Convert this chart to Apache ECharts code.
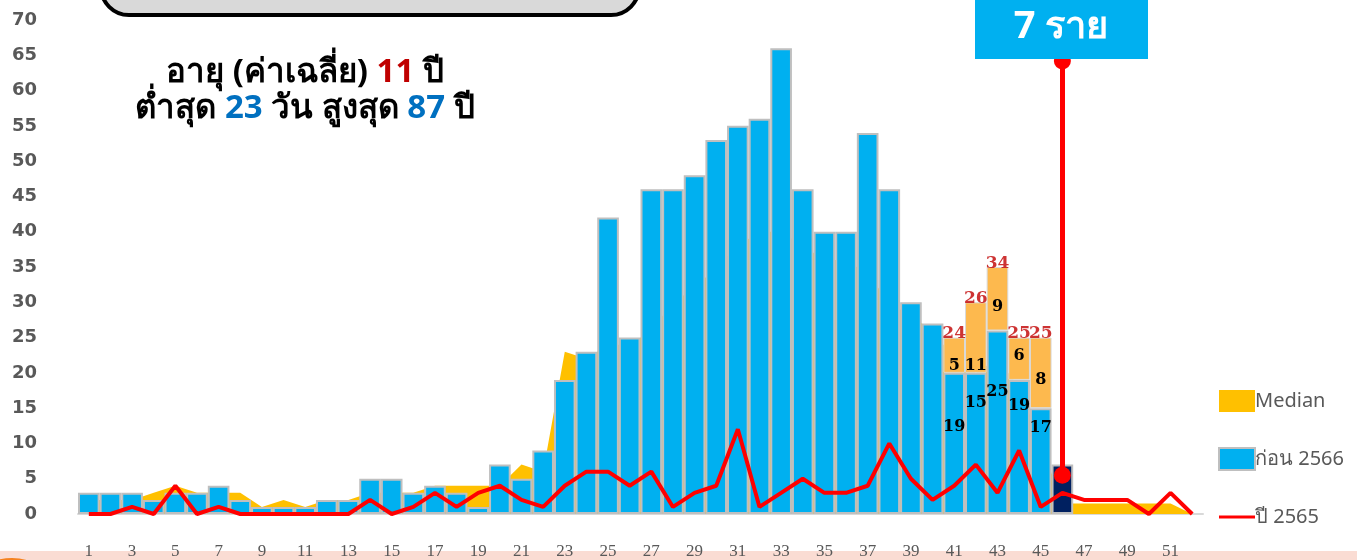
<!DOCTYPE html>
<html>
<head>
<meta charset="utf-8">
<title>chart</title>
<script src="https://cdn.jsdelivr.net/npm/echarts@6/dist/echarts.min.js"></script>
<style>
  html, body { margin: 0; padding: 0; background: #fff; }
  #main { width: 1357px; height: 560px; }
</style>
</head>
<body>
<div id="main"></div>
<script>
// week numbers (x axis)
const weeks = ['1','2','3','4','5','6','7','8','9','10','11','12','13','14','15','16','17','18','19','20',
  '21','22','23','24','25','26','27','28','29','30','31','32','33','34','35','36','37','38','39','40',
  '41','42','43','44','45','46','47','48','49','50','51','52'];

// ก่อน 2566 (blue bars)
const before2566 = [3,3,3,2,3,3,4,2,1,1,1,2,2,5,5,3,4,3,1,7,5,9,19,23,42,25,46,46,48,53,55,56,66,46,40,40,54,46,30,27,
  20,20,26,19,15,null,null,null,null,null,null,null];

// late reports stacked on weeks 41-45 (light orange)
const lateAdded = [null,null,null,null,null,null,null,null,null,null,null,null,null,null,null,null,null,null,null,null,
  null,null,null,null,null,null,null,null,null,null,null,null,null,null,null,null,null,null,null,null,
  5,10,9,6,10,null,null,null,null,null,null,null];

// current week (navy bar)
const currentWeek = [null,null,null,null,null,null,null,null,null,null,null,null,null,null,null,null,null,null,null,null,
  null,null,null,null,null,null,null,null,null,null,null,null,null,null,null,null,null,null,null,null,
  null,null,null,null,null,7,null,null,null,null,null,null];

// Median (area)
const median = [2,2,2,3,4,3,3,3,1,2,1,2,2,3,3,3,4,4,4,4,7,6,23,22,24,24,26,30,32,35,38,40,40,38,36,36,34,30,28,26,
  22,20,22,18,10,1.5,1.5,1.5,1.5,1.5,1.5,0];

// ปี 2565 (red line)
const year2565 = [0,0,1,0,4,0,1,0,0,0,0,0,0,2,0,1,3,1,3,4,2,1,4,6,6,4,6,1,3,4,12,1,3,5,3,3,4,10,5,2,
  4,7,3,9,1,3,2,2,2,0,3,0];

// numbers written on weeks 41-45
const blueLabels = [19,15,25,19,17];
const lateLabels = [5,11,9,6,8];
const totalLabels = [24,26,34,25,25];

const yTicks = { min: 0, max: 70, step: 5 };

// where the small numbers sit (in axis units)
const blueLabelLevel = [12.3,15.7,17.3,15.3,12.2];
const lateLabelLevel = [21,21,29.4,22.4,19];

const firstLabelled = 40;
const pxPerUnit = (515 - 20) / 70;

const serifBold = { fontFamily: 'DejaVu Serif', fontWeight: 'bold' };
const thai = 'Noto Sans, sans-serif';

const blueData = before2566.map(function (v, i) {
  const k = i - firstLabelled;
  if (v == null || k < 0 || k >= blueLabels.length) return v;
  return {
    value: v,
    label: {
      show: true,
      position: ['50%', (v - blueLabelLevel[k]) * pxPerUnit],
      align: 'center', verticalAlign: 'middle',
      formatter: String(blueLabels[k]),
      color: '#000', fontSize: 16, ...serifBold
    }
  };
});

const lateData = lateAdded.map(function (v, i) {
  if (v == null) return v;
  const k = i - firstLabelled;
  return {
    value: v,
    label: {
      show: true,
      position: ['50%', (before2566[i] + v - lateLabelLevel[k]) * pxPerUnit],
      align: 'center', verticalAlign: 'middle',
      formatter: String(lateLabels[k]),
      color: '#000', fontSize: 16, ...serifBold
    }
  };
});

const totalData = lateAdded.map(function (v, i) {
  if (v == null) return null;
  return [i, before2566[i] + v];
});

const chart = echarts.init(document.getElementById('main'));

chart.setOption({
  animation: false,
  backgroundColor: '#fff',
  grid: { left: 78, right: 154, top: 20, bottom: 45 },
  legend: {
    data: [
      { name: 'Median', icon: 'rect' },
      { name: 'ก่อน 2566', icon: 'rect' },
      { name: 'ปี 2565', icon: 'path://M0,0 M36,22 M0,9.5 L36,9.5 L36,12.5 L0,12.5 Z' }
    ],
    orient: 'vertical',
    left: 1213,
    top: 385,
    itemWidth: 36,
    itemHeight: 22,
    itemGap: 35,
    textStyle: { fontFamily: thai, fontSize: 20, color: '#595959', padding: [0, 0, 0, -5] }
  },
  xAxis: {
    type: 'category',
    data: weeks,
    axisTick: { show: false },
    axisLine: { lineStyle: { color: '#D9D9D9', width: 2 } },
    axisLabel: { interval: 1, margin: 29, fontFamily: 'Liberation Serif', fontSize: 17, color: '#595959' }
  },
  yAxis: {
    type: 'value',
    min: yTicks.min, max: yTicks.max, interval: yTicks.step,
    splitLine: { show: false },
    axisLine: { show: false },
    axisLabel: { margin: 41, fontFamily: 'DejaVu Sans', fontWeight: 'bold', fontSize: 18, color: '#595959' }
  },
  series: [
    {
      name: 'Median',
      type: 'line',
      data: median,
      symbol: 'none',
      lineStyle: { width: 0, color: '#FFC000' },
      itemStyle: { color: '#FFC000' },
      areaStyle: { color: '#FFC000', opacity: 1 },
      z: 1
    },
    {
      name: 'ก่อน 2566',
      type: 'bar',
      stack: 'w',
      data: blueData,
      barCategoryGap: '0%',
      itemStyle: { color: '#00B0F0', borderColor: '#BFBFBF', borderWidth: 2 },
      z: 3
    },
    {
      name: 'late',
      type: 'bar',
      stack: 'w',
      data: lateData,
      itemStyle: { color: '#FDB94E', borderColor: '#D9D9D9', borderWidth: 1 },
      z: 3
    },
    {
      name: 'current',
      type: 'bar',
      stack: 'w',
      data: currentWeek,
      itemStyle: { color: '#002060', borderColor: '#BFBFBF', borderWidth: 2 },
      z: 3,
      markLine: {
        silent: true,
        symbol: ['circle', 'circle'],
        symbolSize: 17,
        label: { show: false },
        lineStyle: { color: '#FF0000', width: 5, type: 'solid' },
        data: [[{ xAxis: '46', yAxis: 5.5 }, { xAxis: '46', yAxis: 64.2 }]],
        z: 6
      }
    },
    {
      name: 'ปี 2565',
      type: 'line',
      data: year2565,
      symbol: 'none',
      lineStyle: { color: '#FF0000', width: 4 },
      itemStyle: { color: '#FF0000' },
      z: 5
    },
    {
      name: 'total',
      type: 'scatter',
      data: totalData,
      symbolSize: 0,
      label: {
        show: true,
        position: 'top',
        distance: -5,
        formatter: function (p) { return String(totalLabels[p.dataIndex - firstLabelled]); },
        color: '#C00000', fontSize: 17, ...serifBold
      },
      z: 6
    }
  ],
  graphic: [
    // pink strip at the bottom
    { type: 'rect', left: 0, top: 551, shape: { width: 1357, height: 9 }, style: { fill: '#FADCD3' }, z: -10 },
    { type: 'circle', shape: { cx: 12, cy: 612, r: 54 }, style: { fill: '#F58220' }, z: -9 },
    // rounded box at the top
    { type: 'rect', shape: { x: 101, y: -44, width: 538, height: 59, r: 28 },
      style: { fill: '#D9D9D9', stroke: '#000', lineWidth: 4 }, z: 10 },
    {
      type: 'text', x: 305, y: 73, z: 10,
      style: {
        text: '{a|อายุ (ค่าเฉลี่ย) }{r|11}{a| ปี}',
        align: 'center', verticalAlign: 'middle',
        rich: {
          a: { fontFamily: thai, fontWeight: 'bold', fontSize: 33, fill: '#000' },
          r: { fontFamily: thai, fontWeight: 'bold', fontSize: 33, fill: '#C00000' }
        }
      }
    },
    {
      type: 'text', x: 305, y: 109, z: 10,
      style: {
        text: '{a|ต่ำสุด }{b|23}{a| วัน สูงสุด }{b|87}{a| ปี}',
        align: 'center', verticalAlign: 'middle',
        rich: {
          a: { fontFamily: thai, fontWeight: 'bold', fontSize: 33, fill: '#000' },
          b: { fontFamily: thai, fontWeight: 'bold', fontSize: 33, fill: '#0070C0' }
        }
      }
    },
    // current week callout
    { type: 'rect', shape: { x: 975, y: 0, width: 173, height: 59 }, style: { fill: '#00B0F0' }, z: 10 },
    { type: 'text', x: 1061, y: 27, z: 11,
      style: { text: '7 ราย', align: 'center', verticalAlign: 'middle',
        fontFamily: thai, fontWeight: 'bold', fontSize: 38, fill: '#fff' } }
  ]
});
</script>
</body>
</html>
